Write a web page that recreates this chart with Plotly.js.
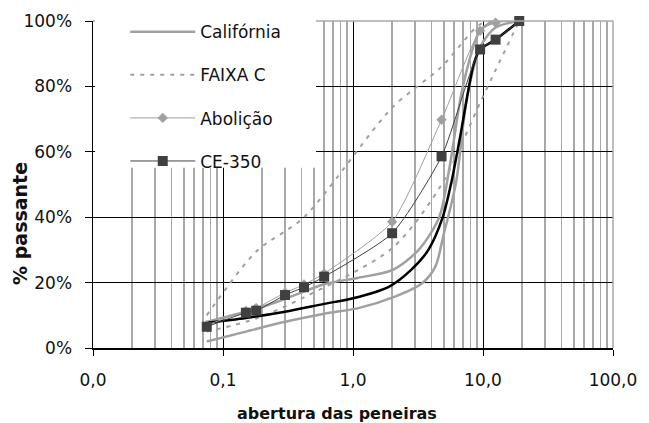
<!DOCTYPE html>
<html>
<head>
<meta charset="utf-8">
<script src="https://cdn.plot.ly/plotly-3.0.1.min.js"></script>
<style>html,body{margin:0;padding:0;background:#fff;}#chart{width:649px;height:423px;}</style>
</head>
<body>
<div id="chart"></div>
<script>
// Sieve openings (mm) with markers
var sieves = [0.075, 0.15, 0.18, 0.3, 0.42, 0.6, 2.0, 4.8, 9.5, 12.5, 19];
var ce350 = [6.5, 10.8, 11.4, 16.2, 18.6, 21.8, 35.1, 58.6, 91.3, 94.3, 100];
var abolicao = [7.0, 11.3, 12.2, 16.9, 19.4, 22.8, 38.6, 69.8, 97, 99.5, 100];

// Faixa C limits
var faixaX = [0.075, 0.18, 0.42, 2.0, 4.8, 9.5, 12.5, 19];
var faixaSup = [10, 29.5, 40, 73.5, 86, 99, 100, 100];
var faixaInf = [5, 9, 15.5, 30.5, 50, 75, 85, 100];

// Califórnia curves
var califSupX = [0.075, 0.18, 0.3, 0.6, 1.1, 2.0, 3.2, 4.6, 5.6, 7.0, 9.5, 12.5, 19];
var califSup = [8, 12, 15, 19.5, 21.5, 23.8, 30, 40, 56.6, 80, 97, 100, 100];
var califInfX = [0.075, 0.15, 0.3, 0.6, 1.1, 2.1, 3.4, 4.3, 5.0, 6.2, 7.5, 9.5, 12.5, 19];
var califInf = [2, 5, 8, 10.5, 12.2, 15.7, 19.8, 24.9, 35, 50.5, 76, 92, 98, 100];

// thick black curve
var curvaX = [0.075, 0.15, 0.3, 0.6, 1.0, 1.9, 2.8, 3.8, 4.9, 5.7, 6.7, 8.5, 9.5, 12.5, 19];
var curvaY = [7.7, 9.2, 11.1, 13.5, 15.2, 18.8, 23.9, 30, 40, 50.5, 65, 87, 91.3, 94.3, 100];

var xTickVals = [0.01, 0.1, 1, 10, 100];
var xTickText = ['0,0', '0,1', '1,0', '10,0', '100,0'];
var yTickVals = [0, 20, 40, 60, 80, 100];
var yTickText = ['0%', '20%', '40%', '60%', '80%', '100%'];

var minorVals = [];
[0.01, 0.1, 1, 10].forEach(function (d) { for (var k = 2; k <= 9; k++) minorVals.push(d * k); });

var gray = '#a0a0a0';
var dark = '#404040';
var FONT = 'DejaVu Sans, Arial, sans-serif';

var traces = [
  {x: califInfX, y: califInf, name: 'Califórnia', legendgroup: 'a', mode: 'lines',
   line: {color: gray, width: 2.5, shape: 'spline', smoothing: 0.8}, cliponaxis: false},
  {x: califSupX, y: califSup, name: 'Califórnia', legendgroup: 'a', showlegend: false, mode: 'lines',
   line: {color: gray, width: 2.5, shape: 'spline', smoothing: 0.8}, cliponaxis: false},
  {x: faixaX, y: faixaSup, name: 'FAIXA C', legendgroup: 'b', mode: 'lines',
   line: {color: gray, width: 2, dash: '4px,6px', shape: 'spline', smoothing: 0.8}, cliponaxis: false},
  {x: faixaX, y: faixaInf, name: 'FAIXA C', legendgroup: 'b', showlegend: false, mode: 'lines',
   line: {color: gray, width: 2, dash: '4px,6px', shape: 'spline', smoothing: 0.8}, cliponaxis: false},
  {x: curvaX, y: curvaY, name: 'curva', showlegend: false, mode: 'lines',
   line: {color: '#000', width: 2.5, shape: 'spline', smoothing: 0.8}, cliponaxis: false},
  {x: sieves, y: abolicao, name: 'Abolição', legendgroup: 'c', mode: 'lines+markers',
   line: {color: gray, width: 1, shape: 'spline', smoothing: 0.6},
   marker: {symbol: 'diamond', size: 8, color: gray}, cliponaxis: false},
  {x: sieves, y: ce350, name: 'CE-350', legendgroup: 'd', mode: 'lines+markers',
   line: {color: dark, width: 1, shape: 'spline', smoothing: 0.6},
   marker: {symbol: 'square', size: 10, color: dark}, cliponaxis: false}
];

var layout = {
  width: 649, height: 423,
  margin: {l: 93, r: 36, t: 21, b: 75},
  paper_bgcolor: '#fff', plot_bgcolor: '#fff',
  showlegend: true,
  font: {family: FONT, size: 17, color: '#111'},
  xaxis: {
    type: 'log', range: [-2, 2], tickmode: 'array', tickvals: xTickVals, ticktext: xTickText,
    showgrid: true, gridcolor: '#000', gridwidth: 1,
    showline: true, linecolor: '#000', linewidth: 1.5,
    ticks: 'outside', ticklen: 6, tickcolor: '#000', ticklabelstandoff: 10,
    tickfont: {family: FONT, size: 17, color: '#111'},
    minor: {tickmode: 'array', tickvals: minorVals, showgrid: true, gridcolor: '#a8a8a8', gridwidth: 1.5, ticks: ''},
    zeroline: false
  },
  yaxis: {
    range: [0, 100], tickmode: 'array', tickvals: yTickVals, ticktext: yTickText,
    showgrid: true, gridcolor: '#000', gridwidth: 1,
    showline: true, linecolor: '#000', linewidth: 1.5,
    ticks: 'outside', ticklen: 7, tickcolor: '#000', ticklabelstandoff: 9,
    tickfont: {family: FONT, size: 17, color: '#111'},
    zeroline: false
  },
  legend: {
    x: 0.062, y: 1.021, xanchor: 'left', yanchor: 'top',
    bgcolor: 'rgba(0,0,0,0)', borderwidth: 0,
    font: {family: FONT, size: 17, color: '#111'},
    itemwidth: 65, tracegroupgap: 18, traceorder: 'grouped'
  },
  shapes: [
    {type: 'line', xref: 'paper', yref: 'paper', x0: 0, x1: 1, y0: 1, y1: 1, line: {color: '#a8a8a8', width: 1.5}, layer: 'above'},
    {type: 'line', xref: 'paper', yref: 'paper', x0: 1, x1: 1, y0: 0, y1: 1, line: {color: '#a8a8a8', width: 1.5}, layer: 'above'},
    {type: 'rect', xref: 'paper', yref: 'paper', x0: 0.004, x1: 0.429, y0: 0.551, y1: 1.01, fillcolor: '#fff', line: {width: 0}, layer: 'above'}
  ],
  annotations: [
    {text: '<b>abertura das peneiras</b>', xref: 'paper', yref: 'paper', x: 0.47, y: -0.2, xanchor: 'center', yanchor: 'middle',
     showarrow: false, font: {family: FONT, size: 16, color: '#111'}},
    {text: '<b>% passante</b>', xref: 'paper', yref: 'paper', x: -0.14, y: 0.38, xanchor: 'center', yanchor: 'middle',
     textangle: -90, showarrow: false, font: {family: FONT, size: 19, color: '#111'}}
  ]
};

Plotly.newPlot('chart', traces, layout, {displayModeBar: false, staticPlot: true});
</script>
</body>
</html>
